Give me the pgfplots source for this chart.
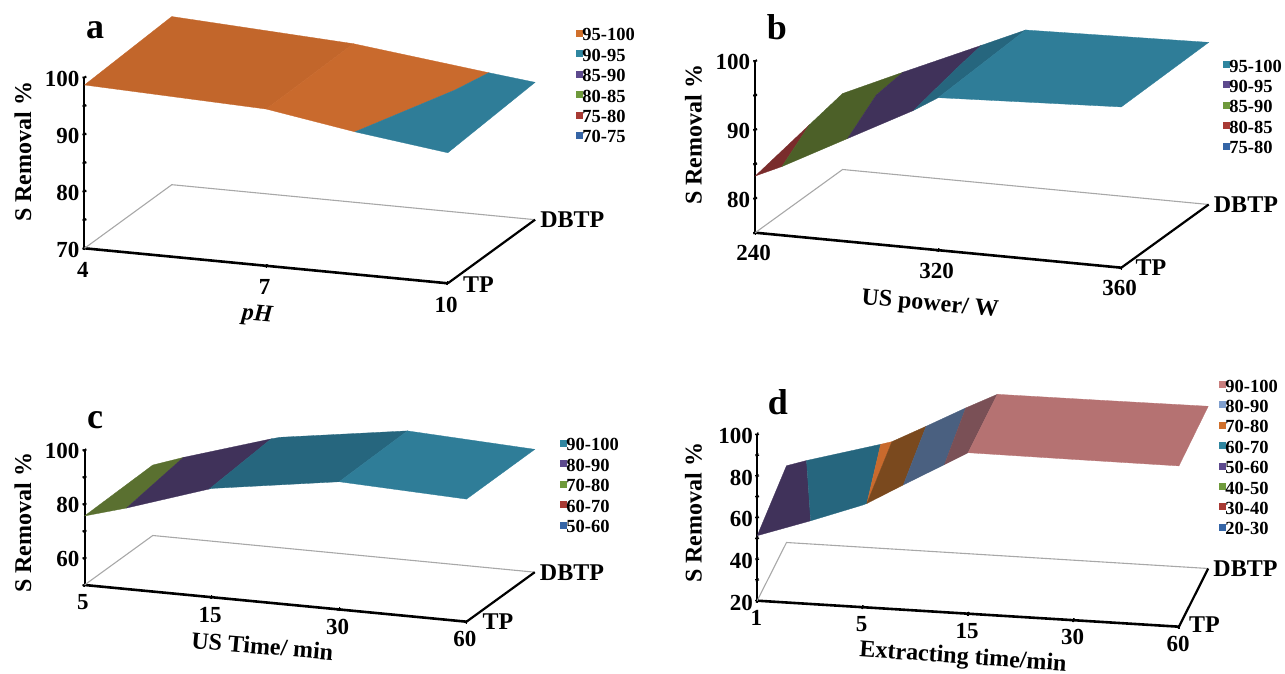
\documentclass[border=0pt]{standalone}
\usepackage{pgfplots}
\pgfplotsset{compat=1.18}
\usepackage{fontspec}
\setmainfont{Liberation Serif}
\definecolor{Lorange}{HTML}{D0702C}
\definecolor{Lteal}{HTML}{2F86A0}
\definecolor{Lpurple}{HTML}{5D4A8E}
\definecolor{Lgreen}{HTML}{6F9A3C}
\definecolor{Lred}{HTML}{A83A34}
\definecolor{Lblue}{HTML}{3565A6}
\definecolor{Lpink}{HTML}{C97F7E}
\definecolor{Lsky}{HTML}{7F9FCE}
\definecolor{Sorange}{HTML}{C96A2D}
\definecolor{SorangeD}{HTML}{C2662B}
\definecolor{Steal}{HTML}{2F7D98}
\definecolor{StealD}{HTML}{26667E}
\definecolor{Spurple}{HTML}{40325A}
\definecolor{Sgreen}{HTML}{4C6028}
\definecolor{Sgreen2}{HTML}{5A7030}
\definecolor{Sred}{HTML}{7A2C2C}
\definecolor{Sbrown}{HTML}{7A491E}
\definecolor{Sslate}{HTML}{4A6080}
\definecolor{Smauve}{HTML}{7A5056}
\definecolor{Spink}{HTML}{B57272}
\definecolor{Floor}{HTML}{A8A8A8}
\tikzset{ylab/.style={anchor=west,inner sep=0pt,font=\fontsize{24}{24}\selectfont\bfseries}}
\pgfplotsset{
  poly/.style={forget plot,fill=#1,draw=#1,line width=0.3pt},
  floor/.style={forget plot,color=Floor,line width=1.1pt},
  yline/.style={forget plot,color=black,line width=2.2pt},
  lg/.style={legend image code/.code={\fill[#1] (0pt,2pt) rectangle (6pt,8pt);}},
  panel/.style={
    clip=false,anchor=origin,
    axis x line=bottom,axis y line=none,axis z line=left,
    axis line style={-,black,line width=2pt},
    x axis line style={line width=2.6pt},
    tick style={black,line width=1.3pt},
    major tick length=4pt,
    xmin=0,ymin=0,ymax=1,
    tick label style={font=\fontsize{23}{23}\selectfont\bfseries},
    xticklabel style={anchor=north},
    zticklabel style={anchor=east},
    legend cell align=left,
    legend style={draw=none,fill=none,anchor=north west,inner sep=0pt,outer sep=0pt,yshift=-4pt,
      font=\fontsize{18.5}{20}\selectfont\bfseries,
      row sep=0pt,
      nodes={inner sep=0pt,outer sep=0pt,text height=13pt,text depth=7.4pt},
      /tikz/every even column/.append style={column sep=2.5pt}},
  },
  xlab/.style n args={3}{every axis x label/.style={at={(axis cs:#1,0,#2)},anchor=center,rotate=#3,font=\fontsize{24}{24}\selectfont\bfseries}},
  zlab/.style 2 args={every axis z label/.style={at={(axis cs:#1,0,#2)},anchor=center,rotate=90,font=\fontsize{24}{24}\selectfont\bfseries}},
}
\begin{document}
\begin{tikzpicture}
\useasboundingbox (0pt,0pt) rectangle (1285pt,674pt);
% panel a
\begin{axis}[panel,at={(84.5pt,425.7pt)},
  x={(181.65pt,-17.5pt)},y={(87.3pt,63.6pt)},z={(0pt,5.7pt)},
  xmax=2,zmin=70,zmax=100,
  xtick={0,1,2},xticklabels={4,7,10},
  xticklabel style={yshift=-9pt},
  ztick={70,75,...,100},zticklabels={70,,80,,90,,100},
  xlab={0.95}{61.2}{-5},zlab={-0.3386}{85.9},
  xlabel={\itshape pH},zlabel={S Removal \%},
  legend style={at={(axis cs:2.706,0,117.67)}}]
\addplot3[floor] coordinates {(0,0,70)(0,1,70)(2,1,70)};
\addplot3[yline] coordinates {(2,0,70)(2,1,70)};
\addplot3[poly=SorangeD] coordinates {(0,0,98.65)(1,0,97.5)(1,1,97.8)(0,1,99.5)} --cycle;
\addplot3[poly=Sorange] coordinates {(1,0,97.5)(1.489,0,95)(1.696,0.715,95)(1.746,1,95)(1,1,97.8)} --cycle;
\addplot3[poly=Steal] coordinates {(1.489,0,95)(2,0,92.9)(2,1,94.1)(1.746,1,95)(1.696,0.715,95)} --cycle;
\node[ylab,xshift=15pt,yshift=-1pt] at (axis cs:2,0,70) {TP};
\node[ylab,xshift=5pt] at (axis cs:2,1,70) {DBTP};
\addlegendimage{lg=Lorange}\addlegendentry{95-100}
\addlegendimage{lg=Lteal}\addlegendentry{90-95}
\addlegendimage{lg=Lpurple}\addlegendentry{85-90}
\addlegendimage{lg=Lgreen}\addlegendentry{80-85}
\addlegendimage{lg=Lred}\addlegendentry{75-80}
\addlegendimage{lg=Lblue}\addlegendentry{70-75}
\end{axis}
% panel b
\begin{axis}[panel,at={(755.2pt,441.3pt)},
  x={(183.05pt,-17.5pt)},y={(87.4pt,63.2pt)},z={(0pt,6.87pt)},
  xmax=2,zmin=75,zmax=100,
  xtick={0,1,2},xticklabels={240,320,360},
  xticklabel style={yshift=-8pt},
  ztick={75,80,...,100},zticklabels={,80,,90,,100},
  xlab={0.955}{66.9}{-5},zlab={-0.337}{88.4},
  xlabel={US power/ W},zlabel={S Removal \%},
  legend style={at={(axis cs:2.556,0,107.37)}}]
\addplot3[floor] coordinates {(0,0,75)(0,1,75)(2,1,75)};
\addplot3[yline] coordinates {(2,0,75)(2,1,75)};
\addplot3[poly=Sred] coordinates {(0,0,83.25)(0.146,0,85)(0,0.62,85)} --cycle;
\addplot3[poly=Sgreen] coordinates {(0.146,0,85)(0,0.62,85)(0,1,86.06)(0.33,1,90)(0.353,0.646,90)(0.505,0,90)} --cycle;
\addplot3[poly=Spurple] coordinates {(0.505,0,90)(0.353,0.646,90)(0.33,1,90)(0.758,1,95)(0.792,0.646,95)(0.865,0,95)} --cycle;
\addplot3[poly=StealD] coordinates {(0.865,0,95)(1,0,97.2)(1,1,97.85)(0.758,1,95)(0.792,0.646,95)} --cycle;
\addplot3[poly=Steal] coordinates {(1,0,97.2)(2,0,98.4)(2,1,98.6)(1,1,97.85)} --cycle;
\node[ylab,xshift=14pt] at (axis cs:2,0,75) {TP};
\node[ylab,xshift=5pt] at (axis cs:2,1,75) {DBTP};
\addlegendimage{lg=Lteal}\addlegendentry{95-100}
\addlegendimage{lg=Lpurple}\addlegendentry{90-95}
\addlegendimage{lg=Lgreen}\addlegendentry{85-90}
\addlegendimage{lg=Lred}\addlegendentry{80-85}
\addlegendimage{lg=Lblue}\addlegendentry{75-80}
\end{axis}
% panel c
\begin{axis}[panel,at={(84.5pt,89pt)},
  x={(127.33pt,-12.23pt)},y={(68.3pt,49.5pt)},z={(0pt,2.7pt)},
  xmax=3,zmin=50,zmax=100,
  xtick={0,1,2,3},xticklabels={5,15,30,60},
  xticklabel style={yshift=-5pt},
  ztick={50,60,...,100},zticklabels={,60,,80,,100},
  xlab={1.397}{33.7}{-5},zlab={-0.483}{70.8},
  xlabel={US Time/ min},zlabel={S Removal \%},
  legend style={at={(axis cs:3.734,0,122.85)}}]
\addplot3[floor] coordinates {(0,0,50)(0,1,50)(3,1,50)};
\addplot3[yline] coordinates {(3,0,50)(3,1,50)};
\addplot3[poly=Sgreen2] coordinates {(0,0,75.56)(0.33,0,80)(0.24,1,80)(0,1,76.1)} --cycle;
\addplot3[poly=Spurple] coordinates {(0.33,0,80)(0.98,0,90)(0.93,1,90)(0.24,1,80)} --cycle;
\addplot3[poly=StealD] coordinates {(0.98,0,90)(1,0,90.3)(2,0,97.3)(2,1,97.8)(1,1,90.9)(0.93,1,90)} --cycle;
\addplot3[poly=Steal] coordinates {(2,0,97.3)(3,0,95.4)(3,1,95.5)(2,1,97.8)} --cycle;
\node[ylab,xshift=16pt] at (axis cs:3,0,50) {TP};
\node[ylab,xshift=5pt] at (axis cs:3,1,50) {DBTP};
\addlegendimage{lg=Lteal}\addlegendentry{90-100}
\addlegendimage{lg=Lpurple}\addlegendentry{80-90}
\addlegendimage{lg=Lgreen}\addlegendentry{70-80}
\addlegendimage{lg=Lred}\addlegendentry{60-70}
\addlegendimage{lg=Lblue}\addlegendentry{50-60}
\end{axis}
% panel d
\begin{axis}[panel,at={(757.2pt,73.3pt)},
  x={(105.43pt,-6.5pt)},y={(29.3pt,58.2pt)},z={(0pt,2.08pt)},
  xmax=4,zmin=20,zmax=100,
  xtick={0,1,2,3,4},xticklabels={1,5,15,30,60},
  xticklabel style={yshift=-4pt},
  ztick={20,30,...,100},zticklabels={20,,40,,60,,80,,100},
  xlab={1.952}{-1.5}{-4},zlab={-0.604}{60.3},
  xlabel={Extracting time/min},zlabel={S Removal \%},
  legend style={at={(axis cs:4.38,0,142.2)}}]
\addplot3[floor] coordinates {(0,0,20)(0,1,20)(4,1,20)};
\addplot3[yline] coordinates {(4,0,20)(4,1,20)};
\addplot3[poly=Spurple] coordinates {(0,0,51.25)(0.507,0,60)(0.19,1,60)(0,1,56.9)} --cycle;
\addplot3[poly=StealD] coordinates {(0.507,0,60)(1,0,69.1)(1.04,0,70)(0.893,1,70)(0.19,1,60)} --cycle;
\addplot3[poly=Sorange] coordinates {(1.04,0,70)(0.893,1,70)(1,1,71.6)} --cycle;
\addplot3[poly=Sbrown] coordinates {(1.04,0,70)(1.386,0,80)(1.324,1,80)(1,1,71.6)} --cycle;
\addplot3[poly=Sslate] coordinates {(1.386,0,80)(1.776,0,91)(1.7,1,90)(1.324,1,80)} --cycle;
\addplot3[poly=Smauve] coordinates {(1.776,0,91)(2,0,97.4)(2,1,97.5)(1.7,1,90)} --cycle;
\addplot3[poly=Spink] coordinates {(2,0,97.4)(3,0,97.3)(4,0,97.3)(4,1,98)(3,1,97.7)(2,1,97.5)} --cycle;
\node[ylab,xshift=10pt,yshift=2pt] at (axis cs:4,0,20) {TP};
\node[ylab,xshift=5pt] at (axis cs:4,1,20) {DBTP};
\addlegendimage{lg=Lpink}\addlegendentry{90-100}
\addlegendimage{lg=Lsky}\addlegendentry{80-90}
\addlegendimage{lg=Lorange}\addlegendentry{70-80}
\addlegendimage{lg=Lteal}\addlegendentry{60-70}
\addlegendimage{lg=Lpurple}\addlegendentry{50-60}
\addlegendimage{lg=Lgreen}\addlegendentry{40-50}
\addlegendimage{lg=Lred}\addlegendentry{30-40}
\addlegendimage{lg=Lblue}\addlegendentry{20-30}
\end{axis}
\node[font=\fontsize{36}{36}\selectfont\bfseries] at (95pt,644pt) {a};
\node[font=\fontsize{36}{36}\selectfont\bfseries] at (777pt,647pt) {b};
\node[font=\fontsize{36}{36}\selectfont\bfseries] at (95pt,254pt) {c};
\node[font=\fontsize{36}{36}\selectfont\bfseries] at (778pt,272pt) {d};
\end{tikzpicture}
\end{document}
